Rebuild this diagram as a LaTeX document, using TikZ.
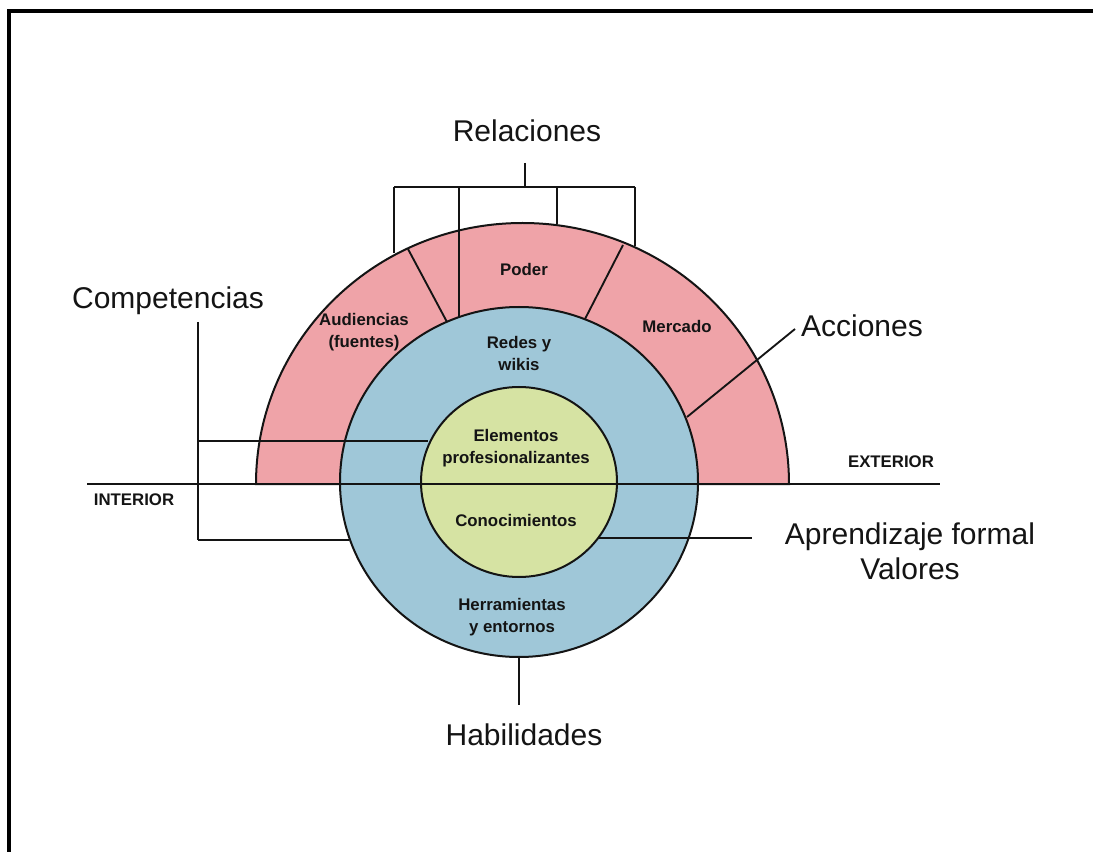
\documentclass[tikz,border=0pt]{standalone}
\usepackage{fontspec}
\setmainfont{Liberation Sans}
\usetikzlibrary{positioning}
\definecolor{outerring}{HTML}{EFA3A8}
\definecolor{midring}{HTML}{9FC7D8}
\definecolor{core}{HTML}{D6E3A3}
\definecolor{ink}{HTML}{141414}
\tikzset{
  every node/.style={text=ink},
  biglabel/.style={font=\fontsize{22.5}{26}\selectfont,align=center,inner sep=0pt},
  ringlabel/.style={font=\fontsize{12.6}{16.5}\selectfont\bfseries,align=center,inner sep=0pt},
  sidelabel/.style={ringlabel},
  ring/.style={draw=ink,line width=1.5pt},
  leader/.style={draw=ink,line width=1.4pt},
  axisline/.style={draw=ink,line width=1.8pt},
  frameline/.style={draw=black,line width=2.3pt},
}

\begin{document}
\begin{tikzpicture}[x=0.75pt,y=-0.75pt]
\useasboundingbox (0,0) rectangle (1093,852);

% frame
\draw[frameline] (9,852) -- (9,11) -- (1093,11);

% rings
\draw[ring,fill=outerring] (256,484) arc[start angle=180,end angle=360,x radius=266.5,y radius=261] -- cycle;
\draw[ring,fill=midring] (519,482) ellipse[x radius=179,y radius=175];
\draw[ring,fill=core] (519,482) ellipse[x radius=98,y radius=95];
\draw[axisline] (87,484) -- (940,484);

% sector dividers
\coordinate (audtop) at (408,249);
\coordinate (audbot) at (447,322);
\coordinate (merctop) at (623,245);
\coordinate (mercbot) at (585,319);
\draw[leader] (audtop) -- (audbot);
\draw[leader] (merctop) -- (mercbot);

% ring texts
\node[ringlabel] (poder) at (524,269) {Poder};
\node[ringlabel] (audiencias) at (364,332) {Audiencias\\(fuentes)};
\node[ringlabel] (mercado) at (677,326) {Mercado};
\node[ringlabel] (redes) at (519,353) {Redes y\\wikis};
\node[ringlabel] (elementos) at (516,448) {Elementos\\profesionalizantes};
\node[ringlabel] (conoc) at (516,520) {Conocimientos};
\node[ringlabel] (herram) at (512,617) {Herramientas\\y entornos};
\node[sidelabel] (interior) at (134,500) {INTERIOR};
\node[sidelabel] (exterior) at (891,462) {EXTERIOR};

% outer labels
\node[biglabel] (relaciones) at (527,131) {Relaciones};
\node[biglabel] (competencias) at (168,301) {Competencias};
\node[biglabel] (acciones) at (862,326) {Acciones};
\node[biglabel] (aprendizaje) at (910,551) {Aprendizaje formal\\Valores};
\node[biglabel] (habilidades) at (524,735) {Habilidades};

% Relaciones bracket
\coordinate (relstem) at (525,163);
\coordinate (relbar) at (525,187);
\coordinate (legA) at (394,187);
\coordinate (legB) at (459,187);
\coordinate (legC) at (557,187);
\coordinate (legD) at (635,187);
\draw[leader] (relstem) -- (relbar);
\draw[leader] (legA) -- (legD);
\draw[leader] (legA) -- (394,253);
\draw[leader] (legB) -- (459,317);
\draw[leader] (legC) -- (557,224);
\draw[leader] (legD) -- (635,246);

% Competencias bracket
\coordinate (comptop) at (198,322);
\coordinate (compbot) at (198,540);
\draw[leader] (comptop) -- (compbot);
\draw[leader] (198,441) -- (428,441);
\draw[leader] (compbot) -- (349,540);

% Acciones
\coordinate (accin) at (687,417);
\coordinate (accout) at (795,329);
\draw[leader] (accin) -- (accout);

% Aprendizaje formal
\coordinate (aprin) at (598,538);
\coordinate (aprout) at (752,538);
\draw[leader] (aprin) -- (aprout);

% Habilidades
\coordinate (habtop) at (519,657);
\coordinate (habbot) at (519,705);
\draw[leader] (habtop) -- (habbot);

\end{tikzpicture}
\end{document}
